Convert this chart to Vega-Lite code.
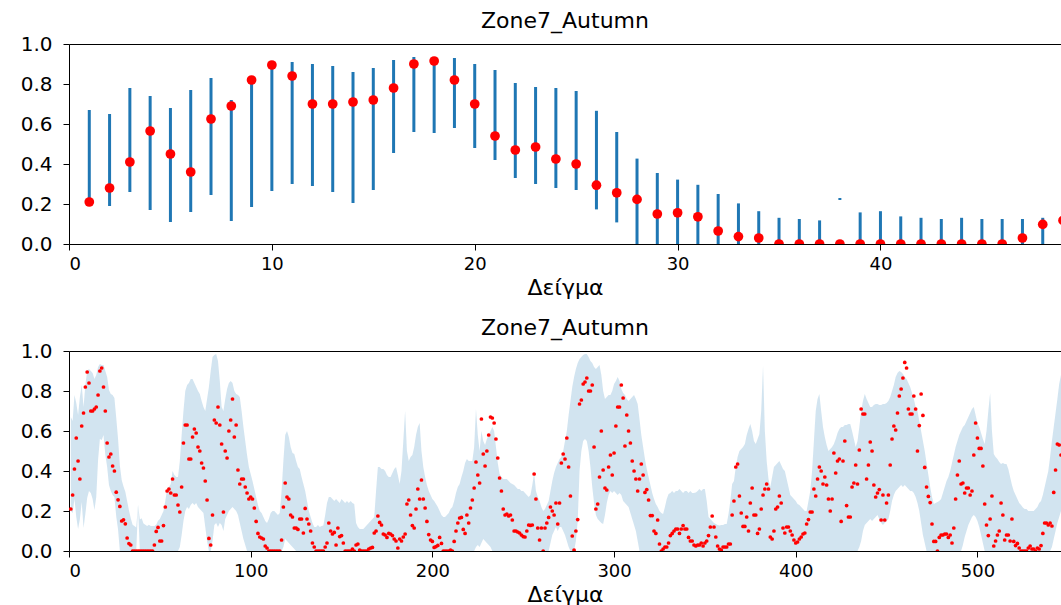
{
"$schema":"https://vega.github.io/schema/vega-lite/v6.json",
"padding":{"left":13,"top":9,"right":0,"bottom":0},
"config":{"font":"DejaVu Sans","view":{"stroke":"#000000","strokeWidth":1},
"axis":{"grid":false,"domain":false,"tickColor":"#000000","labelColor":"#000000","titleColor":"#000000","labelFontSize":18,"titleFontSize":22,"titleFontWeight":"normal","tickSize":6,"labelPadding":5,"titlePadding":4,"labelOverlap":false},
"title":{"fontSize":22,"fontWeight":"normal","color":"#000000","offset":1,"frame":"group"},
"concat":{"spacing":17}},
"datasets":{"d":[
{"x":1,"m":0.21,"l":0.2,"h":0.67},{"x":2,"m":0.28,"l":0.19,"h":0.65},{"x":3,"m":0.41,"l":0.26,"h":0.78},{"x":4,"m":0.565,"l":0.17,"h":0.74},{"x":5,"m":0.45,"l":0.11,"h":0.68},{"x":6,"m":0.36,"l":0.16,"h":0.77},{"x":7,"m":0.625,"l":0.245,"h":0.83},{"x":8,"m":0.69,"l":0.115,"h":0.72},{"x":9,"m":0.82,"l":0.185,"h":0.83},{"x":10,"m":0.895,"l":0.265,"h":0.9},
{"x":11,"m":0.84,"l":0.3,"h":0.91},{"x":12,"m":0.7,"l":0.29,"h":0.9},{"x":13,"m":0.7,"l":0.26,"h":0.89},{"x":14,"m":0.71,"l":0.205,"h":0.86},{"x":15,"m":0.72,"l":0.27,"h":0.88},{"x":16,"m":0.78,"l":0.455,"h":0.92},{"x":17,"m":0.9,"l":0.56,"h":0.935},{"x":18,"m":0.915,"l":0.555,"h":0.93},{"x":19,"m":0.82,"l":0.58,"h":0.93},{"x":20,"m":0.7,"l":0.48,"h":0.9},
{"x":21,"m":0.54,"l":0.42,"h":0.87},{"x":22,"m":0.47,"l":0.33,"h":0.805},{"x":23,"m":0.485,"l":0.3,"h":0.785},{"x":24,"m":0.425,"l":0.28,"h":0.78},{"x":25,"m":0.4,"l":0.27,"h":0.765},{"x":26,"m":0.294,"l":0.173,"h":0.666},{"x":27,"m":0.256,"l":0.108,"h":0.56},{"x":28,"m":0.223,"l":0,"h":0.427},{"x":29,"m":0.15,"l":0,"h":0.355},{"x":30,"m":0.156,"l":0,"h":0.322},
{"x":31,"m":0.136,"l":0,"h":0.296},{"x":32,"m":0.065,"l":0,"h":0.25},{"x":33,"m":0.037,"l":0,"h":0.203},{"x":34,"m":0.03,"l":0,"h":0.164},{"x":35,"m":0,"l":0,"h":0.131},{"x":36,"m":0,"l":0,"h":0.125},{"x":37,"m":0,"l":0,"h":0.118},{"x":38,"m":0,"l":0.22,"h":0.23},{"x":39,"m":0,"l":0,"h":0.158},{"x":40,"m":0,"l":0,"h":0.164},
{"x":41,"m":0,"l":0,"h":0.138},{"x":42,"m":0,"l":0,"h":0.131},{"x":43,"m":0,"l":0,"h":0.125},{"x":44,"m":0,"l":0,"h":0.131},{"x":45,"m":0,"l":0,"h":0.125},{"x":46,"m":0,"l":0,"h":0.125},{"x":47,"m":0.03,"l":0,"h":0.125},{"x":48,"m":0.098,"l":0,"h":0.131},{"x":49,"m":0.118,"l":0,"h":0.151},
{"x":50,"m":0.05,"l":0,"h":0.16},{"x":51,"m":0.05,"l":0,"h":0.18},{"x":52,"m":0.127,"l":0,"h":0.2},{"x":53,"m":0.22,"l":0,"h":0.25},{"x":54,"m":0.3,"l":0,"h":0.31},{"x":55,"m":0.31,"l":0,"h":0.32},{"x":56,"m":0.29,"l":0,"h":0.335},{"x":57,"m":0.36,"l":0,"h":0.4},{"x":58,"m":0.28,"l":0,"h":0.38},{"x":59,"m":0.28,"l":0,"h":0.37},{"x":60,"m":0.23,"l":0,"h":0.37},
{"x":61,"m":0.195,"l":0.02,"h":0.45},{"x":62,"m":0.32,"l":0.08,"h":0.58},{"x":63,"m":0.54,"l":0.15,"h":0.7},{"x":64,"m":0.63,"l":0.2,"h":0.8},{"x":65,"m":0.63,"l":0.22,"h":0.83},{"x":66,"m":0.46,"l":0.21,"h":0.84},{"x":67,"m":0.46,"l":0.23,"h":0.86},{"x":68,"m":0.57,"l":0.24,"h":0.86},{"x":69,"m":0.61,"l":0.23,"h":0.84},{"x":70,"m":0.59,"l":0.24,"h":0.82},
{"x":71,"m":0.52,"l":0.22,"h":0.8},{"x":72,"m":0.5,"l":0.21,"h":0.785},{"x":73,"m":0.44,"l":0.2,"h":0.75},{"x":74,"m":0.415,"l":0.19,"h":0.72},{"x":75,"m":0.35,"l":0.12,"h":0.7},{"x":76,"m":0.255,"l":0.05,"h":0.76},{"x":77,"m":0.063,"l":0,"h":0.82},{"x":78,"m":0.03,"l":0,"h":0.9},{"x":79,"m":0.18,"l":0.05,"h":0.97},{"x":80,"m":0.655,"l":0.13,"h":0.98},
{"x":81,"m":0.64,"l":0.14,"h":0.985},{"x":82,"m":0.72,"l":0.12,"h":0.95},{"x":83,"m":0.63,"l":0.14,"h":0.85},{"x":84,"m":0.535,"l":0.13,"h":0.72},{"x":85,"m":0.195,"l":0.1,"h":0.7},{"x":86,"m":0.5,"l":0.16,"h":0.76},{"x":87,"m":0.465,"l":0.18,"h":0.81},{"x":88,"m":0.6,"l":0.2,"h":0.84},{"x":89,"m":0.655,"l":0.21,"h":0.85},{"x":90,"m":0.76,"l":0.22,"h":0.84},
{"x":91,"m":0.57,"l":0.21,"h":0.8},{"x":92,"m":0.63,"l":0.2,"h":0.785},{"x":93,"m":0.405,"l":0.18,"h":0.78},{"x":94,"m":0.335,"l":0.14,"h":0.77},{"x":95,"m":0.36,"l":0.1,"h":0.7},{"x":96,"m":0.36,"l":0.06,"h":0.62},{"x":97,"m":0.32,"l":0.03,"h":0.55},{"x":98,"m":0.29,"l":0,"h":0.48},{"x":99,"m":0.26,"l":0,"h":0.42},{"x":100,"m":0.27,"l":0,"h":0.385},
{"x":101,"m":0.26,"l":0,"h":0.35},{"x":102,"m":0.215,"l":0,"h":0.31},{"x":103,"m":0.148,"l":0,"h":0.27},{"x":104,"m":0.088,"l":0,"h":0.23},{"x":105,"m":0.07,"l":0,"h":0.2},{"x":106,"m":0.065,"l":0,"h":0.19},{"x":107,"m":0.06,"l":0,"h":0.17},{"x":108,"m":0.025,"l":0,"h":0.15},{"x":109,"m":0.015,"l":0,"h":0.14},{"x":110,"m":0,"l":0,"h":0.16},
{"x":111,"m":0,"l":0,"h":0.19},{"x":112,"m":0,"l":0,"h":0.2},{"x":113,"m":0,"l":0,"h":0.2},{"x":114,"m":0,"l":0,"h":0.19},{"x":115,"m":0,"l":0,"h":0.18},{"x":116,"m":0,"l":0,"h":0.19},{"x":117,"m":0.055,"l":0,"h":0.3},{"x":118,"m":0.22,"l":0.02,"h":0.45},{"x":119,"m":0.34,"l":0.06,"h":0.58},{"x":120,"m":0.27,"l":0.05,"h":0.6},
{"x":121,"m":0.26,"l":0.04,"h":0.57},{"x":122,"m":0.18,"l":0.03,"h":0.52},{"x":123,"m":0.17,"l":0.02,"h":0.49},{"x":124,"m":0.115,"l":0.01,"h":0.485},{"x":125,"m":0.115,"l":0,"h":0.45},{"x":126,"m":0.108,"l":0,"h":0.42},{"x":127,"m":0.16,"l":0,"h":0.41},{"x":128,"m":0.16,"l":0,"h":0.37},{"x":129,"m":0.09,"l":0,"h":0.335},{"x":130,"m":0.213,"l":0,"h":0.3},
{"x":131,"m":0.16,"l":0,"h":0.25},{"x":132,"m":0.135,"l":0,"h":0.2},{"x":133,"m":0.1,"l":0,"h":0.17},{"x":134,"m":0.04,"l":0,"h":0.14},{"x":135,"m":0.02,"l":0,"h":0.12},{"x":136,"m":0,"l":0,"h":0.12},{"x":137,"m":0,"l":0,"h":0.13},{"x":138,"m":0,"l":0,"h":0.12},{"x":139,"m":0,"l":0,"h":0.125},{"x":140,"m":0,"l":0,"h":0.127},
{"x":141,"m":0.02,"l":0,"h":0.18},{"x":142,"m":0.04,"l":0,"h":0.24},{"x":143,"m":0.14,"l":0,"h":0.27},{"x":144,"m":0.1,"l":0,"h":0.27},{"x":145,"m":0.085,"l":0,"h":0.26},{"x":146,"m":0.093,"l":0,"h":0.25},{"x":147,"m":0.03,"l":0,"h":0.26},{"x":148,"m":0.115,"l":0,"h":0.25},{"x":149,"m":0.072,"l":0,"h":0.24},{"x":150,"m":0.077,"l":0,"h":0.26},
{"x":151,"m":0.04,"l":0,"h":0.25},{"x":152,"m":0,"l":0,"h":0.24},{"x":153,"m":0,"l":0,"h":0.25},{"x":154,"m":0,"l":0,"h":0.24},{"x":155,"m":0,"l":0,"h":0.25},{"x":156,"m":0.01,"l":0,"h":0.24},{"x":157,"m":0,"l":0,"h":0.235},{"x":158,"m":0.03,"l":0,"h":0.14},{"x":159,"m":0.035,"l":0,"h":0.12},{"x":160,"m":0.005,"l":0,"h":0.11},
{"x":161,"m":0,"l":0,"h":0.11},{"x":162,"m":0,"l":0,"h":0.11},{"x":163,"m":0,"l":0,"h":0.12},{"x":164,"m":0,"l":0,"h":0.13},{"x":165,"m":0.01,"l":0,"h":0.14},{"x":166,"m":0.015,"l":0,"h":0.15},{"x":167,"m":0.018,"l":0,"h":0.16},{"x":168,"m":0.09,"l":0,"h":0.17},{"x":169,"m":0.1,"l":0,"h":0.3},{"x":170,"m":0.175,"l":0,"h":0.42},
{"x":171,"m":0.143,"l":0,"h":0.42},{"x":172,"m":0.13,"l":0,"h":0.41},{"x":173,"m":0.085,"l":0,"h":0.41},{"x":174,"m":0.08,"l":0,"h":0.4},{"x":175,"m":0.068,"l":0,"h":0.38},{"x":176,"m":0.088,"l":0,"h":0.37},{"x":177,"m":0.085,"l":0,"h":0.37},{"x":178,"m":0.077,"l":0,"h":0.39},{"x":179,"m":0.06,"l":0,"h":0.41},{"x":180,"m":0.05,"l":0,"h":0.42},
{"x":181,"m":0.015,"l":0,"h":0.38},{"x":182,"m":0.06,"l":0,"h":0.335},{"x":183,"m":0.05,"l":0,"h":0.4},{"x":184,"m":0.07,"l":0,"h":0.55},{"x":185,"m":0.085,"l":0,"h":0.7},{"x":186,"m":0.235,"l":0,"h":0.5},{"x":187,"m":0.255,"l":0,"h":0.45},{"x":188,"m":0.18,"l":0,"h":0.47},{"x":189,"m":0.127,"l":0,"h":0.48},{"x":190,"m":0.115,"l":0,"h":0.52},
{"x":191,"m":0.21,"l":0,"h":0.58},{"x":192,"m":0.31,"l":0,"h":0.62},{"x":193,"m":0.26,"l":0,"h":0.64},{"x":194,"m":0.355,"l":0,"h":0.5},{"x":195,"m":0.26,"l":0,"h":0.42},{"x":196,"m":0.215,"l":0,"h":0.37},{"x":197,"m":0.148,"l":0,"h":0.33},{"x":198,"m":0.082,"l":0,"h":0.3},{"x":199,"m":0.055,"l":0,"h":0.28},{"x":200,"m":0.048,"l":0,"h":0.26},
{"x":201,"m":0.018,"l":0,"h":0.25},{"x":202,"m":0.022,"l":0,"h":0.235},{"x":203,"m":0.028,"l":0,"h":0.22},{"x":204,"m":0.068,"l":0,"h":0.2},{"x":205,"m":0.038,"l":0,"h":0.18},{"x":206,"m":0,"l":0,"h":0.17},{"x":207,"m":0,"l":0,"h":0.17},{"x":208,"m":0,"l":0,"h":0.18},{"x":209,"m":0,"l":0,"h":0.19},{"x":210,"m":0.005,"l":0,"h":0.21},
{"x":211,"m":0,"l":0,"h":0.22},{"x":212,"m":0.048,"l":0,"h":0.25},{"x":213,"m":0.1,"l":0,"h":0.29},{"x":214,"m":0.14,"l":0,"h":0.32},{"x":215,"m":0.165,"l":0,"h":0.335},{"x":216,"m":0.168,"l":0,"h":0.37},{"x":217,"m":0.108,"l":0,"h":0.4},{"x":218,"m":0.088,"l":0,"h":0.44},{"x":219,"m":0.18,"l":0,"h":0.46},{"x":220,"m":0.14,"l":0,"h":0.45},
{"x":221,"m":0.215,"l":0,"h":0.45},{"x":222,"m":0.255,"l":0,"h":0.45},{"x":223,"m":0.315,"l":0,"h":0.52},{"x":224,"m":0.445,"l":0.02,"h":0.71},{"x":225,"m":0.38,"l":0.03,"h":0.58},{"x":226,"m":0.34,"l":0.02,"h":0.5},{"x":227,"m":0.66,"l":0.04,"h":0.6},{"x":228,"m":0.485,"l":0.06,"h":0.55},{"x":229,"m":0.425,"l":0.05,"h":0.53},{"x":230,"m":0.5,"l":0.04,"h":0.56},
{"x":231,"m":0.58,"l":0.03,"h":0.58},{"x":232,"m":0.67,"l":0.02,"h":0.6},{"x":233,"m":0.665,"l":0,"h":0.62},{"x":234,"m":0.64,"l":0,"h":0.6},{"x":235,"m":0.56,"l":0,"h":0.52},{"x":236,"m":0.465,"l":0,"h":0.44},{"x":237,"m":0.365,"l":0,"h":0.385},{"x":238,"m":0.3,"l":0,"h":0.37},{"x":239,"m":0.21,"l":0,"h":0.36},{"x":240,"m":0.18,"l":0,"h":0.36},
{"x":241,"m":0.185,"l":0,"h":0.36},{"x":242,"m":0.175,"l":0,"h":0.35},{"x":243,"m":0.18,"l":0,"h":0.34},{"x":244,"m":0.155,"l":0,"h":0.335},{"x":245,"m":0.1,"l":0,"h":0.33},{"x":246,"m":0.1,"l":0,"h":0.32},{"x":247,"m":0.095,"l":0,"h":0.31},{"x":248,"m":0.09,"l":0,"h":0.31},{"x":249,"m":0.08,"l":0,"h":0.3},{"x":250,"m":0.072,"l":0,"h":0.3},
{"x":251,"m":0.07,"l":0,"h":0.29},{"x":252,"m":0.1,"l":0,"h":0.28},{"x":253,"m":0.13,"l":0,"h":0.27},{"x":254,"m":0.128,"l":0,"h":0.28},{"x":255,"m":0.13,"l":0,"h":0.33},{"x":256,"m":0.385,"l":0,"h":0.39},{"x":257,"m":0.26,"l":0,"h":0.3},{"x":258,"m":0.115,"l":0,"h":0.27},{"x":259,"m":0.055,"l":0,"h":0.25},{"x":260,"m":0.115,"l":0,"h":0.22},
{"x":261,"m":0,"l":0,"h":0.2},{"x":262,"m":0.115,"l":0,"h":0.21},{"x":263,"m":0.14,"l":0,"h":0.23},{"x":264,"m":0.168,"l":0,"h":0.25},{"x":265,"m":0.22,"l":0.04,"h":0.3},{"x":266,"m":0.2,"l":0.08,"h":0.35},{"x":267,"m":0.18,"l":0.1,"h":0.39},{"x":268,"m":0.24,"l":0.12,"h":0.42},{"x":269,"m":0.135,"l":0.1,"h":0.44},{"x":270,"m":0.24,"l":0.12,"h":0.46},
{"x":271,"m":0.44,"l":0.12,"h":0.47},{"x":272,"m":0.485,"l":0.1,"h":0.5},{"x":273,"m":0.46,"l":0.08,"h":0.55},{"x":274,"m":0.565,"l":0.05,"h":0.6},{"x":275,"m":0.42,"l":0.02,"h":0.68},{"x":276,"m":0.275,"l":0,"h":0.75},{"x":277,"m":0.075,"l":0,"h":0.82},{"x":278,"m":0.005,"l":0,"h":0.87},{"x":279,"m":0.1,"l":0.05,"h":0.91},{"x":280,"m":0.157,"l":0.15,"h":0.94},
{"x":281,"m":0.735,"l":0.4,"h":0.96},{"x":282,"m":0.755,"l":0.5,"h":0.97},{"x":283,"m":0.835,"l":0.55,"h":0.98},{"x":284,"m":0.845,"l":0.56,"h":0.985},{"x":285,"m":0.865,"l":0.55,"h":0.985},{"x":286,"m":0.8,"l":0.5,"h":0.97},{"x":287,"m":0.8,"l":0.42,"h":0.95},{"x":288,"m":0.83,"l":0.32,"h":0.94},{"x":289,"m":0.52,"l":0.24,"h":0.92},{"x":290,"m":0.21,"l":0.18,"h":0.91},
{"x":291,"m":0.235,"l":0.16,"h":0.92},{"x":292,"m":0.37,"l":0.15,"h":0.93},{"x":293,"m":0.6,"l":0.14,"h":0.88},{"x":294,"m":0.405,"l":0.135,"h":0.8},{"x":295,"m":0.315,"l":0.18,"h":0.76},{"x":296,"m":0.305,"l":0.24,"h":0.77},{"x":297,"m":0.42,"l":0.28,"h":0.78},{"x":298,"m":0.48,"l":0.3,"h":0.78},{"x":299,"m":0.38,"l":0.29,"h":0.8},{"x":300,"m":0.49,"l":0.3,"h":0.835},
{"x":301,"m":0.625,"l":0.29,"h":0.85},{"x":302,"m":0.72,"l":0.28,"h":0.87},{"x":303,"m":0.72,"l":0.29,"h":0.85},{"x":304,"m":0.83,"l":0.28,"h":0.81},{"x":305,"m":0.765,"l":0.25,"h":0.79},{"x":306,"m":0.525,"l":0.24,"h":0.78},{"x":307,"m":0.68,"l":0.23,"h":0.76},{"x":308,"m":0.6,"l":0.22,"h":0.75},{"x":309,"m":0.54,"l":0.19,"h":0.76},{"x":310,"m":0.45,"l":0.16,"h":0.77},
{"x":311,"m":0.4,"l":0.13,"h":0.78},{"x":312,"m":0.36,"l":0.1,"h":0.76},{"x":313,"m":0.3,"l":0.05,"h":0.735},{"x":314,"m":0.36,"l":0,"h":0.66},{"x":315,"m":0.435,"l":0,"h":0.58},{"x":316,"m":0.38,"l":0,"h":0.52},{"x":317,"m":0.293,"l":0,"h":0.46},{"x":318,"m":0.307,"l":0,"h":0.41},{"x":319,"m":0.255,"l":0,"h":0.37},{"x":320,"m":0.177,"l":0,"h":0.33},
{"x":321,"m":0.177,"l":0,"h":0.29},{"x":322,"m":0.1,"l":0,"h":0.26},{"x":323,"m":0.088,"l":0,"h":0.235},{"x":324,"m":0.155,"l":0,"h":0.22},{"x":325,"m":0.035,"l":0,"h":0.2},{"x":326,"m":0,"l":0,"h":0.19},{"x":327,"m":0.01,"l":0,"h":0.185},{"x":328,"m":0.02,"l":0,"h":0.22},{"x":329,"m":0.02,"l":0,"h":0.26},{"x":330,"m":0.04,"l":0,"h":0.285},
{"x":331,"m":0.077,"l":0,"h":0.29},{"x":332,"m":0.088,"l":0,"h":0.3},{"x":333,"m":0.1,"l":0,"h":0.29},{"x":334,"m":0.11,"l":0,"h":0.3},{"x":335,"m":0.11,"l":0,"h":0.3},{"x":336,"m":0.088,"l":0,"h":0.31},{"x":337,"m":0.11,"l":0,"h":0.3},{"x":338,"m":0.127,"l":0,"h":0.29},{"x":339,"m":0.11,"l":0,"h":0.3},{"x":340,"m":0.11,"l":0,"h":0.3},
{"x":341,"m":0.068,"l":0,"h":0.29},{"x":342,"m":0.05,"l":0,"h":0.3},{"x":343,"m":0.05,"l":0,"h":0.29},{"x":344,"m":0.03,"l":0,"h":0.29},{"x":345,"m":0.025,"l":0,"h":0.293},{"x":346,"m":0.03,"l":0,"h":0.3},{"x":347,"m":0.03,"l":0,"h":0.31},{"x":348,"m":0.04,"l":0,"h":0.3},{"x":349,"m":0.025,"l":0,"h":0.31},{"x":350,"m":0.04,"l":0,"h":0.31},
{"x":351,"m":0.05,"l":0,"h":0.25},{"x":352,"m":0.077,"l":0,"h":0.17},{"x":353,"m":0.12,"l":0,"h":0.16},{"x":354,"m":0.175,"l":0,"h":0.15},{"x":355,"m":0.12,"l":0,"h":0.14},{"x":356,"m":0.07,"l":0,"h":0.135},{"x":357,"m":0.025,"l":0,"h":0.13},{"x":358,"m":0.01,"l":0,"h":0.127},{"x":359,"m":0.005,"l":0,"h":0.13},{"x":360,"m":0.02,"l":0,"h":0.13},
{"x":361,"m":0.02,"l":0,"h":0.135},{"x":362,"m":0.02,"l":0,"h":0.135},{"x":363,"m":0.035,"l":0,"h":0.185},{"x":364,"m":0.035,"l":0,"h":0.25},{"x":365,"m":0.18,"l":0,"h":0.335},{"x":366,"m":0.25,"l":0,"h":0.35},{"x":367,"m":0.42,"l":0,"h":0.42},{"x":368,"m":0.435,"l":0,"h":0.47},{"x":369,"m":0.275,"l":0,"h":0.5},{"x":370,"m":0.19,"l":0,"h":0.51},
{"x":371,"m":0.123,"l":0,"h":0.52},{"x":372,"m":0.123,"l":0,"h":0.535},{"x":373,"m":0.17,"l":0,"h":0.58},{"x":374,"m":0.1,"l":0,"h":0.61},{"x":375,"m":0.24,"l":0,"h":0.635},{"x":376,"m":0.315,"l":0,"h":0.6},{"x":377,"m":0.18,"l":0,"h":0.55},{"x":378,"m":0.18,"l":0,"h":0.535},{"x":379,"m":0.088,"l":0,"h":0.56},{"x":380,"m":0.11,"l":0,"h":0.585},
{"x":381,"m":0.21,"l":0,"h":0.7},{"x":382,"m":0.28,"l":0,"h":0.925},{"x":383,"m":0.31,"l":0,"h":0.6},{"x":384,"m":0.335,"l":0,"h":0.45},{"x":385,"m":0.31,"l":0,"h":0.36},{"x":386,"m":0.07,"l":0,"h":0.32},{"x":387,"m":0.06,"l":0,"h":0.37},{"x":388,"m":0.1,"l":0,"h":0.42},{"x":389,"m":0.21,"l":0,"h":0.43},{"x":390,"m":0.22,"l":0,"h":0.44},
{"x":391,"m":0.275,"l":0,"h":0.45},{"x":392,"m":0.24,"l":0,"h":0.43},{"x":393,"m":0.115,"l":0,"h":0.41},{"x":394,"m":0.09,"l":0,"h":0.4},{"x":395,"m":0.12,"l":0,"h":0.36},{"x":396,"m":0.12,"l":0,"h":0.32},{"x":397,"m":0.1,"l":0,"h":0.28},{"x":398,"m":0.08,"l":0,"h":0.27},{"x":399,"m":0.055,"l":0,"h":0.26},{"x":400,"m":0.04,"l":0,"h":0.25},
{"x":401,"m":0.045,"l":0,"h":0.235},{"x":402,"m":0.06,"l":0,"h":0.23},{"x":403,"m":0.07,"l":0,"h":0.22},{"x":404,"m":0.085,"l":0,"h":0.21},{"x":405,"m":0.09,"l":0,"h":0.2},{"x":406,"m":0.135,"l":0,"h":0.2},{"x":407,"m":0.157,"l":0,"h":0.25},{"x":408,"m":0.195,"l":0,"h":0.3},{"x":409,"m":0.195,"l":0,"h":0.4},{"x":410,"m":0.31,"l":0,"h":0.55},
{"x":411,"m":0.275,"l":0,"h":0.7},{"x":412,"m":0.36,"l":0,"h":0.76},{"x":413,"m":0.42,"l":0,"h":0.785},{"x":414,"m":0.4,"l":0,"h":0.7},{"x":415,"m":0.335,"l":0,"h":0.62},{"x":416,"m":0.37,"l":0,"h":0.57},{"x":417,"m":0.33,"l":0,"h":0.53},{"x":418,"m":0.26,"l":0,"h":0.5},{"x":419,"m":0.2,"l":0,"h":0.51},{"x":420,"m":0.26,"l":0,"h":0.52},
{"x":421,"m":0.49,"l":0,"h":0.535},{"x":422,"m":0.39,"l":0,"h":0.56},{"x":423,"m":0.45,"l":0,"h":0.59},{"x":424,"m":0.46,"l":0,"h":0.61},{"x":425,"m":0.148,"l":0,"h":0.62},{"x":426,"m":0.45,"l":0,"h":0.62},{"x":427,"m":0.55,"l":0,"h":0.63},{"x":428,"m":0.227,"l":0,"h":0.63},{"x":429,"m":0.17,"l":0,"h":0.635},{"x":430,"m":0.17,"l":0,"h":0.635},
{"x":431,"m":0.32,"l":0,"h":0.6},{"x":432,"m":0.34,"l":0,"h":0.56},{"x":433,"m":0.43,"l":0,"h":0.52},{"x":434,"m":0.335,"l":0,"h":0.55},{"x":435,"m":0.505,"l":0.02,"h":0.62},{"x":436,"m":0.71,"l":0.05,"h":0.7},{"x":437,"m":0.685,"l":0.1,"h":0.75},{"x":438,"m":0.685,"l":0.13,"h":0.785},{"x":439,"m":0.36,"l":0.14,"h":0.76},{"x":440,"m":0.43,"l":0.15,"h":0.74},
{"x":441,"m":0.545,"l":0.16,"h":0.72},{"x":442,"m":0.5,"l":0.15,"h":0.72},{"x":443,"m":0.33,"l":0.16,"h":0.73},{"x":444,"m":0.27,"l":0.17,"h":0.735},{"x":445,"m":0.29,"l":0.18,"h":0.735},{"x":446,"m":0.307,"l":0.16,"h":0.73},{"x":447,"m":0.155,"l":0.14,"h":0.73},{"x":448,"m":0.28,"l":0.13,"h":0.735},{"x":449,"m":0.155,"l":0.14,"h":0.735},{"x":450,"m":0.24,"l":0.15,"h":0.74},
{"x":451,"m":0.28,"l":0.16,"h":0.75},{"x":452,"m":0.43,"l":0.2,"h":0.77},{"x":453,"m":0.56,"l":0.25,"h":0.8},{"x":454,"m":0.625,"l":0.28,"h":0.83},{"x":455,"m":0.605,"l":0.3,"h":0.87},{"x":456,"m":0.69,"l":0.31,"h":0.89},{"x":457,"m":0.775,"l":0.32,"h":0.9},{"x":458,"m":0.81,"l":0.33,"h":0.895},{"x":459,"m":0.865,"l":0.32,"h":0.885},{"x":460,"m":0.943,"l":0.33,"h":0.87},
{"x":461,"m":0.915,"l":0.32,"h":0.86},{"x":462,"m":0.71,"l":0.31,"h":0.84},{"x":463,"m":0.685,"l":0.3,"h":0.82},{"x":464,"m":0.685,"l":0.3,"h":0.79},{"x":465,"m":0.775,"l":0.29,"h":0.76},{"x":466,"m":0.71,"l":0.27,"h":0.72},{"x":467,"m":0.5,"l":0.24,"h":0.7},{"x":468,"m":0.627,"l":0.2,"h":0.65},{"x":469,"m":0.785,"l":0.14,"h":0.6},{"x":470,"m":0.678,"l":0.08,"h":0.55},
{"x":471,"m":0.418,"l":0.04,"h":0.5},{"x":472,"m":0.32,"l":0,"h":0.44},{"x":473,"m":0.273,"l":0,"h":0.38},{"x":474,"m":0.242,"l":0,"h":0.32},{"x":475,"m":0.135,"l":0,"h":0.27},{"x":476,"m":0.048,"l":0,"h":0.235},{"x":477,"m":0.048,"l":0,"h":0.24},{"x":478,"m":0,"l":0,"h":0.245},{"x":479,"m":0.068,"l":0,"h":0.25},{"x":480,"m":0.08,"l":0,"h":0.26},
{"x":481,"m":0.08,"l":0,"h":0.29},{"x":482,"m":0.085,"l":0,"h":0.32},{"x":483,"m":0.085,"l":0,"h":0.35},{"x":484,"m":0.068,"l":0,"h":0.37},{"x":485,"m":0.08,"l":0,"h":0.4},{"x":486,"m":0.04,"l":0,"h":0.44},{"x":487,"m":0.115,"l":0,"h":0.48},{"x":488,"m":0.26,"l":0,"h":0.52},{"x":489,"m":0.38,"l":0,"h":0.55},{"x":490,"m":0.45,"l":0,"h":0.58},
{"x":491,"m":0.335,"l":0,"h":0.6},{"x":492,"m":0.34,"l":0.03,"h":0.62},{"x":493,"m":0.29,"l":0.07,"h":0.63},{"x":494,"m":0.315,"l":0.1,"h":0.65},{"x":495,"m":0.315,"l":0.13,"h":0.67},{"x":496,"m":0.28,"l":0.15,"h":0.69},{"x":497,"m":0.3,"l":0.17,"h":0.71},{"x":498,"m":0.48,"l":0.18,"h":0.72},{"x":499,"m":0.64,"l":0.17,"h":0.68},{"x":500,"m":0.565,"l":0.15,"h":0.64},
{"x":501,"m":0.513,"l":0.12,"h":0.62},{"x":502,"m":0.513,"l":0.08,"h":0.59},{"x":503,"m":0.425,"l":0.04,"h":0.56},{"x":504,"m":0.235,"l":0,"h":0.535},{"x":505,"m":0.13,"l":0,"h":0.6},{"x":506,"m":0.077,"l":0,"h":0.7},{"x":507,"m":0.16,"l":0,"h":0.79},{"x":508,"m":0.275,"l":0,"h":0.6},{"x":509,"m":0.025,"l":0,"h":0.485},{"x":510,"m":0.05,"l":0,"h":0.47},
{"x":511,"m":0.08,"l":0,"h":0.46},{"x":512,"m":0.1,"l":0,"h":0.445},{"x":513,"m":0.24,"l":0,"h":0.435},{"x":514,"m":0.18,"l":0,"h":0.44},{"x":515,"m":0.055,"l":0,"h":0.435},{"x":516,"m":0.08,"l":0,"h":0.435},{"x":517,"m":0.08,"l":0,"h":0.41},{"x":518,"m":0.05,"l":0,"h":0.37},{"x":519,"m":0.16,"l":0,"h":0.33},{"x":520,"m":0.048,"l":0,"h":0.3},
{"x":521,"m":0.027,"l":0,"h":0.28},{"x":522,"m":0.038,"l":0,"h":0.26},{"x":523,"m":0.015,"l":0,"h":0.24},{"x":524,"m":0,"l":0,"h":0.23},{"x":525,"m":0,"l":0,"h":0.218},{"x":526,"m":0,"l":0,"h":0.21},{"x":527,"m":0,"l":0,"h":0.21},{"x":528,"m":0.015,"l":0,"h":0.2},{"x":529,"m":0.025,"l":0,"h":0.2},{"x":530,"m":0.01,"l":0,"h":0.2},
{"x":531,"m":0.01,"l":0,"h":0.2},{"x":532,"m":0,"l":0,"h":0.21},{"x":533,"m":0.015,"l":0,"h":0.22},{"x":534,"m":0.01,"l":0,"h":0.24},{"x":535,"m":0.027,"l":0,"h":0.25},{"x":536,"m":0.088,"l":0,"h":0.28},{"x":537,"m":0.14,"l":0,"h":0.32},{"x":538,"m":0.14,"l":0,"h":0.36},{"x":539,"m":0.13,"l":0,"h":0.4},{"x":540,"m":0.14,"l":0,"h":0.47},
{"x":541,"m":0.125,"l":0.02,"h":0.55},{"x":542,"m":0.293,"l":0.06,"h":0.62},{"x":543,"m":0.405,"l":0.1,"h":0.69},{"x":544,"m":0.535,"l":0.14,"h":0.76},{"x":545,"m":0.53,"l":0.17,"h":0.835},{"x":546,"m":0.48,"l":0.2,"h":0.88}
]},
"vconcat":[
{"title":"Zone7_Autumn","width":992,"height":200,"data":{"name":"d"},"transform":[{"filter":"datum.x <= 49"}],
"resolve":{"axis":{"y":"independent","x":"independent"}},
"layer":[
{"mark":{"type":"rule","color":"#1f77b4","strokeWidth":3,"clip":true},
"encoding":{"x":{"field":"x","type":"quantitative","scale":{"domain":[0,48.9],"nice":false,"zero":false},"axis":{"values":[0,10,20,30,40],"title":"Δείγμα","labelOverlap":false}},
"y":{"field":"l","type":"quantitative","scale":{"domain":[0,1],"nice":false,"zero":false},"axis":{"values":[0,0.2,0.4,0.6,0.8,1],"labelExpr":"format(datum.value, '.1f')","title":null,"minExtent":55,"maxExtent":55,"labelOverlap":false,"labelFontSize":20,"labelPadding":11,"labelBound":false,"labelSeparation":0}},
"y2":{"field":"h"}}},
{"mark":{"type":"point","filled":true,"color":"#ff0000","opacity":1,"size":95,"clip":true},
"encoding":{"x":{"field":"x","type":"quantitative","axis":null},"y":{"field":"m","type":"quantitative","axis":null}}}
]},
{"title":"Zone7_Autumn","width":992,"height":200,"data":{"name":"d"},
"resolve":{"axis":{"y":"independent","x":"independent"}},
"layer":[
{"mark":{"type":"area","color":"#1f77b4","opacity":0.2,"clip":true},
"encoding":{"x":{"field":"x","type":"quantitative","scale":{"domain":[0,546],"nice":false,"zero":false},"axis":{"values":[0,100,200,300,400,500],"title":"Δείγμα","labelOverlap":false}},
"y":{"field":"l","type":"quantitative","scale":{"domain":[0,1],"nice":false,"zero":false},"axis":{"values":[0,0.2,0.4,0.6,0.8,1],"labelExpr":"format(datum.value, '.1f')","title":null,"minExtent":55,"maxExtent":55,"labelOverlap":false,"labelFontSize":20,"labelPadding":11,"labelBound":false,"labelSeparation":0}},
"y2":{"field":"h"}}},
{"mark":{"type":"point","filled":true,"color":"#ff0000","opacity":1,"size":14,"clip":true},
"encoding":{"x":{"field":"x","type":"quantitative","axis":null},"y":{"field":"m","type":"quantitative","axis":null}}}
]}
]
}
